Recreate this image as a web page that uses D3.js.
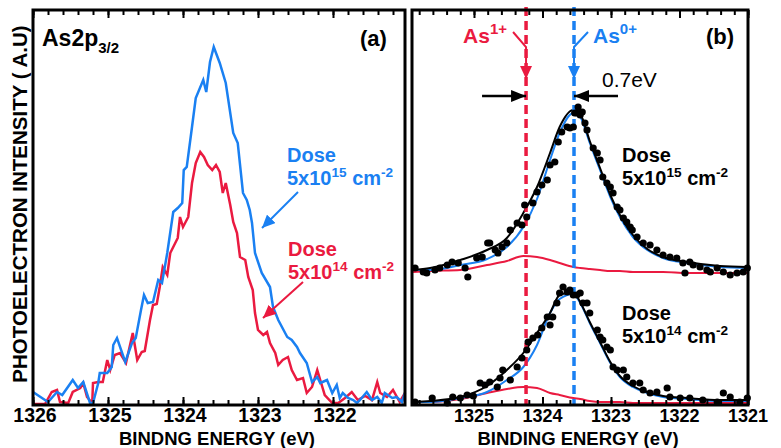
<!DOCTYPE html>
<html>
<head>
<meta charset="utf-8">
<script src="https://cdn.jsdelivr.net/npm/d3@7"></script>
<style>
body { margin: 0; background: #fff; }
text { font-family: "Liberation Sans", Arial, sans-serif; }
</style>
</head>
<body>
<script>
// panel (a) raw spectra, binding energy (eV) / intensity (a.u.)
var blueE = [1326.00,1325.84,1325.80,1325.68,1325.61,1325.47,1325.40,1325.33,1325.24,1325.20,1325.13,1325.11,1325.01,1324.95,1324.93,1324.88,1324.77,1324.68,1324.63,1324.56,1324.52,1324.47,1324.40,1324.33,1324.28,1324.21,1324.13,1324.07,1324.01,1323.99,1323.95,1323.88,1323.83,1323.73,1323.69,1323.64,1323.59,1323.51,1323.43,1323.33,1323.27,1323.20,1323.15,1323.11,1323.08,1323.04,1322.95,1322.84,1322.80,1322.73,1322.61,1322.55,1322.48,1322.44,1322.35,1322.28,1322.21,1322.17,1322.08,1322.01,1321.95,1321.91,1321.87,1321.80,1321.73,1321.68,1321.64,1321.55,1321.48,1321.41,1321.35,1321.31,1321.21,1321.15,1321.08,1321.04]
var blueI = [13,5,3,13,10,25,17,23,2,2,22,32,32,38,60,67,43,62,67,95,110,102,103,125,122,152,193,197,202,235,238,278,307,325,313,343,358,342,322,272,262,212,205,195,182,152,132,118,98,85,68,65,58,52,42,23,28,22,25,12,20,7,12,7,5,2,5,13,5,8,2,12,7,8,3,12]
var redE = [1326.00,1325.84,1325.75,1325.68,1325.64,1325.53,1325.47,1325.37,1325.33,1325.28,1325.21,1325.20,1325.13,1325.07,1325.01,1324.97,1324.91,1324.84,1324.76,1324.67,1324.61,1324.55,1324.51,1324.44,1324.40,1324.35,1324.31,1324.27,1324.21,1324.17,1324.07,1324.04,1324.00,1323.93,1323.88,1323.83,1323.77,1323.72,1323.67,1323.61,1323.56,1323.51,1323.47,1323.43,1323.37,1323.33,1323.28,1323.24,1323.17,1323.13,1323.07,1323.04,1323.00,1322.93,1322.88,1322.84,1322.77,1322.73,1322.67,1322.60,1322.55,1322.48,1322.40,1322.35,1322.28,1322.21,1322.17,1322.11,1322.01,1321.93,1321.84,1321.75,1321.67,1321.57,1321.48,1321.41,1321.37,1321.28,1321.20,1321.11,1321.04]
var redI = [1,1,13,15,3,2,13,17,22,8,2,22,23,23,45,35,50,52,42,72,45,53,54,85,100,101,118,138,130,152,167,188,178,188,222,242,253,248,240,235,240,233,212,222,200,183,172,148,145,128,115,92,75,70,73,62,52,40,45,48,35,25,27,12,18,35,25,10,2,2,7,13,5,9,5,23,12,8,15,3,12]

// panel (b) measured points, 5x10^15 (upper) and 5x10^14 (lower)
var hiDotE = [1325.86,1325.74,1325.69,1325.57,1325.50,1325.39,1325.32,1325.23,1325.09,1325.13,1324.96,1324.88,1324.80,1324.77,1324.69,1324.65,1324.59,1324.52,1324.47,1324.37,1324.30,1324.23,1324.26,1324.14,1324.08,1324.01,1323.93,1323.89,1323.82,1323.77,1323.72,1323.64,1323.60,1323.55,1323.53,1323.48,1323.42,1323.50,1323.45,1323.38,1323.35,1323.26,1323.20,1323.16,1323.12,1323.06,1323.01,1322.97,1322.91,1322.87,1322.82,1322.77,1322.72,1322.69,1322.62,1322.53,1322.43,1322.33,1322.24,1322.14,1322.04,1321.95,1321.85,1321.80,1321.70,1321.60,1321.55,1321.45,1321.36,1321.26,1321.16,1321.07,1321.01,1321.92]
var hiDotI = [137,133,132,135,137,140,143,142,128,137,147,148,162,162,155,152,158,162,175,182,180,188,200,202,213,220,225,240,243,263,273,278,277,278,292,298,293,292,290,282,275,257,252,245,228,222,218,212,198,195,187,183,178,175,168,162,160,155,150,148,147,142,143,140,138,135,133,137,133,130,132,133,137,132]
var loDotE = [1325.86,1325.61,1325.39,1325.31,1325.20,1325.10,1325.01,1324.91,1324.84,1324.77,1324.66,1324.62,1324.58,1324.47,1324.37,1324.30,1324.23,1324.21,1324.14,1324.07,1324.01,1323.93,1323.89,1323.85,1323.79,1323.75,1323.70,1323.64,1323.60,1323.55,1323.50,1323.45,1323.41,1323.35,1323.31,1323.20,1323.16,1323.12,1323.06,1323.01,1322.97,1322.91,1322.82,1322.77,1322.68,1322.58,1322.53,1322.43,1322.33,1322.18,1322.14,1321.99,1321.85,1321.66,1321.45,1321.36,1321.26,1321.12,1321.01]
var loDotI = [3,7,2,8,7,10,9,22,20,23,18,27,35,25,38,47,55,63,67,70,77,88,80,88,102,112,118,113,115,110,110,112,102,102,92,75,68,65,58,55,38,35,35,28,22,22,15,12,13,17,8,7,7,5,3,12,8,3,7]

// panel (b) fitted curves
var fitE = [1325.89,1325.64,1325.20,1324.81,1324.52,1324.28,1324.08,1323.89,1323.75,1323.55,1323.45,1323.31,1323.16,1323.01,1322.87,1322.68,1322.47,1322.24,1321.89,1321.41,1321.01]
var hiSumI = [135,137,145,155,167,192,218,252,278,295,291,264,237,210,190,170,156,148,143,139,138]
var hiAs0I = [135,135,140,146,158,178,206,245,272,292,288,262,235,208,188,168,155,147,142,138,137]
var hiAs1I = [133,134,135,140,144,149,148,145,142,138,137,136,135,134,134,133,133,133,132,132,132]
var loSumI = [3,4,8,19,35,52,72,92,110,113,103,83,63,43,29,19,13,9,7,5,5]
var loAs0I = [3,3,7,13,25,38,60,92,106,111,102,82,62,42,28,18,12,8,6,4,4]
var loAs1I = [3,3,6,12,16,18,17,12,10,7,6,4,3,3,3,2,2,2,2,2,2]

var peakNames = ["As", "As"]
var peakCharge = ["1+", "0+"]
var peakE = [1324.24, 1323.54]

var ticksA = [1326, 1325, 1324, 1323, 1322]
var ticksB = [1325, 1324, 1323, 1322, 1321]

var BLUE = "#1a80f2", RED = "#ea1a40"
var W = 781, H = 448

var svg = d3.select("body").append("svg").attr("width", W).attr("height", H)

var defs = svg.append("defs")
function marker(id, color, len, half) {
  defs.append("marker")
      .attr("id", id)
      .attr("markerUnits", "userSpaceOnUse")
      .attr("viewBox", "0 0 " + len + " " + (half * 2))
      .attr("refX", len).attr("refY", half)
      .attr("markerWidth", len).attr("markerHeight", half * 2)
      .attr("orient", "auto")
      .append("path")
      .attr("d", "M0,0L" + len + "," + half + "L0," + (half * 2) + "Z")
      .attr("fill", color)
}
marker("hb", BLUE, 13, 6)
marker("hr", RED, 13, 6)
marker("hk", "#000", 15, 6)

var xa = d3.scaleLinear().domain([1326, 1321.04]).range([33, 405])
var xb = d3.scaleLinear().domain([1325.905, 1321]).range([412, 748])
var y = d3.scaleLinear().domain([0, 395]).range([405, 10])

function pairs(E, I) { return E.map(function(e, i) { return [e, I[i]] }) }

function frame(x, minor, major, labels, fs, dx) {
  var g = svg.append("g")
  g.append("g").attr("transform", "translate(0,405)")
   .call(d3.axisBottom(x).tickValues(minor).tickSize(-5).tickFormat(""))
  g.append("g").attr("transform", "translate(0,10)")
   .call(d3.axisTop(x).tickValues(minor).tickSize(-5).tickFormat(""))
  g.append("g").attr("transform", "translate(0,405)")
   .call(d3.axisBottom(x).tickValues(major).tickSize(-8).tickFormat(""))
  g.append("g").attr("transform", "translate(0,10)")
   .call(d3.axisTop(x).tickValues(major).tickSize(-8).tickFormat(""))
  g.selectAll(".domain").remove()
  g.selectAll(".tick line").attr("stroke", "#000").attr("stroke-width", 2)
  g.selectAll("text.lab").data(labels).enter().append("text")
   .attr("x", function(d) { return x(d) + dx })
   .attr("y", 422)
   .attr("text-anchor", "middle")
   .attr("font-size", fs).attr("font-weight", "bold")
   .text(function(d) { return d })
  return g
}

var minorA = d3.range(0, 25).map(function(i) { return 1326 - i * 0.2 })
var minorB = d3.range(0, 25).map(function(i) { return 1321 + i * 0.2 })

// ---------- panel (a)
var lineA = d3.line().x(function(d) { return xa(d[0]) }).y(function(d) { return y(d[1]) })

svg.append("path").datum(pairs(redE, redI)).attr("d", lineA)
   .attr("fill", "none").attr("stroke", RED).attr("stroke-width", 2.5)
svg.append("path").datum(pairs(blueE, blueI)).attr("d", lineA)
   .attr("fill", "none").attr("stroke", BLUE).attr("stroke-width", 2.5)

frame(xa, minorA, ticksA, ticksA, 19.5, 2)
svg.append("rect").attr("x", 33).attr("y", 10).attr("width", 372).attr("height", 395)
   .attr("fill", "none").attr("stroke", "#000").attr("stroke-width", 3)

var t = svg.append("text").attr("x", 42).attr("y", 46).attr("font-size", 23).attr("font-weight", "bold")
t.append("tspan").text("As2p")
t.append("tspan").attr("font-size", 15).attr("dy", 7).text("3/2")
svg.append("text").attr("x", 360).attr("y", 46).attr("font-size", 22).attr("font-weight", "bold").text("(a)")

function dose(x, y0, exp, color, fs) {
  svg.append("text").attr("x", x).attr("y", y0).attr("font-size", fs)
     .attr("font-weight", "bold").attr("fill", color).text("Dose")
  var tt = svg.append("text").attr("x", x).attr("y", y0 + 23).attr("font-size", fs)
     .attr("font-weight", "bold").attr("fill", color)
  tt.append("tspan").text("5x10")
  tt.append("tspan").attr("font-size", fs * 0.68).attr("dy", -8).text(exp)
  tt.append("tspan").attr("dy", 8).text(" cm")
  tt.append("tspan").attr("font-size", fs * 0.68).attr("dy", -8).text("-2")
}
dose(287, 162, "15", BLUE, 20)
dose(288, 256, "14", RED, 20)

svg.append("line").attr("x1", 298).attr("y1", 192).attr("x2", 262).attr("y2", 228)
   .attr("stroke", BLUE).attr("stroke-width", 2).attr("marker-end", "url(#hb)")
svg.append("line").attr("x1", 303).attr("y1", 282).attr("x2", 263).attr("y2", 318)
   .attr("stroke", RED).attr("stroke-width", 2).attr("marker-end", "url(#hr)")

svg.append("text").attr("transform", "translate(27,204) rotate(-90)")
   .attr("text-anchor", "middle").attr("font-size", 20.5).attr("font-weight", "bold")
   .text("PHOTOELECTRON INTENSITY ( A.U)")
svg.append("text").attr("x", 217).attr("y", 445).attr("text-anchor", "middle")
   .attr("font-size", 18.5).attr("font-weight", "bold").text("BINDNG ENERGY (eV)")

// ---------- panel (b)
var lineB = d3.line().x(function(d) { return xb(d[0]) }).y(function(d) { return y(d[1]) })
   .curve(d3.curveMonotoneX)

function fitLine(I, color, w) {
  svg.append("path").datum(pairs(fitE, I)).attr("d", lineB)
     .attr("fill", "none").attr("stroke", color).attr("stroke-width", w)
}
fitLine(hiAs1I, RED, 2)
fitLine(loAs1I, RED, 2)
fitLine(hiAs0I, BLUE, 2)
fitLine(loAs0I, BLUE, 2)
fitLine(hiSumI, "#000", 2)
fitLine(loSumI, "#000", 2)

svg.selectAll("line.peak").data(peakE).enter().append("line")
   .attr("x1", function(d) { return xb(d) }).attr("x2", function(d) { return xb(d) })
   .attr("y1", 7).attr("y2", 405)
   .attr("stroke", function(d, i) { return i == 0 ? RED : BLUE })
   .attr("stroke-width", 3.5).attr("stroke-dasharray", "9,5")

svg.selectAll("circle.hi").data(pairs(hiDotE, hiDotI)).enter().append("circle")
   .attr("cx", function(d) { return xb(d[0]) }).attr("cy", function(d) { return y(d[1]) })
   .attr("r", 3.6).attr("fill", "#000")
svg.selectAll("circle.lo").data(pairs(loDotE, loDotI)).enter().append("circle")
   .attr("cx", function(d) { return xb(d[0]) }).attr("cy", function(d) { return y(d[1]) })
   .attr("r", 3.6).attr("fill", "#000")

frame(xb, minorB, ticksB, ticksB, 18, 0)
svg.append("rect").attr("x", 412).attr("y", 10).attr("width", 336).attr("height", 395)
   .attr("fill", "none").attr("stroke", "#000").attr("stroke-width", 3)

// peak labels with leader arrows
peakE.forEach(function(e, i) {
  var px = xb(e), col = i == 0 ? RED : BLUE
  var tx = i == 0 ? px - 63 : px + 19
  var lt = svg.append("text").attr("x", tx).attr("y", 43).attr("font-size", 21)
     .attr("font-weight", "bold").attr("fill", col)
  lt.append("tspan").text(peakNames[i])
  lt.append("tspan").attr("font-size", 15).attr("dy", -9).text(peakCharge[i])
  var sx = i == 0 ? px - 13 : px + 14
  svg.append("path").attr("d", "M" + sx + ",32L" + px + ",47L" + px + ",79")
     .attr("fill", "none").attr("stroke", col).attr("stroke-width", 2)
     .attr("marker-end", "url(#" + (i == 0 ? "hr" : "hb") + ")")
})
svg.append("line").attr("x1", xb(peakE[0]) - 44).attr("y1", 96).attr("x2", xb(peakE[0])).attr("y2", 96)
   .attr("stroke", "#000").attr("stroke-width", 2.5).attr("marker-end", "url(#hk)")
svg.append("line").attr("x1", xb(peakE[1]) + 44).attr("y1", 96).attr("x2", xb(peakE[1])).attr("y2", 96)
   .attr("stroke", "#000").attr("stroke-width", 2.5).attr("marker-end", "url(#hk)")
svg.append("text").attr("x", 602).attr("y", 87).attr("font-size", 21).text("0.7eV")

svg.append("text").attr("x", 706).attr("y", 44).attr("font-size", 22).attr("font-weight", "bold").text("(b)")

dose(622, 162, "15", "#000", 20)
dose(622, 320, "14", "#000", 20)

svg.append("text").attr("x", 578).attr("y", 445).attr("text-anchor", "middle")
   .attr("font-size", 18.5).attr("font-weight", "bold").text("BINDING ENERGY (eV)")
</script>
</body>
</html>
